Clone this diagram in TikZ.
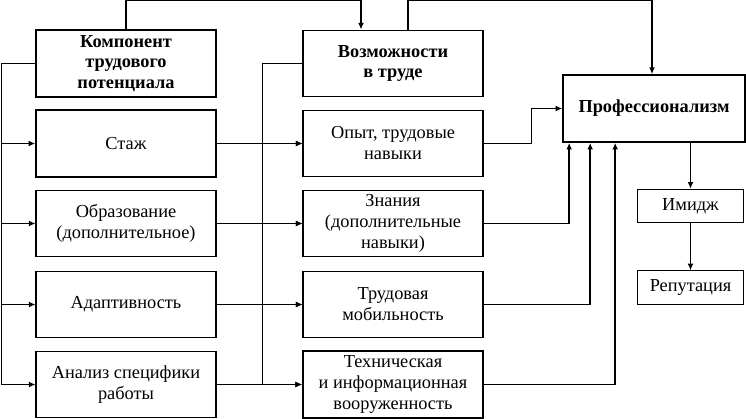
\documentclass[tikz,border=0pt]{standalone}
\usepackage{fontspec}
\setmainfont{Liberation Serif}
\usetikzlibrary{arrows.meta, calc, positioning}
\tikzset{
box/.style={draw, line width=0.7pt, minimum width=108pt, minimum height=40pt,
    align=center, inner sep=2pt, font=\fontsize{11}{12.6}\selectfont},
boldbox/.style={box, font=\fontsize{11}{12.2}\selectfont\bfseries},
edge/.style={line width=0.6pt, -{Latex[length=4pt,width=3.5pt]}},
thickedge/.style={edge, line width=1.1pt}
}

\begin{document}
\begin{tikzpicture}[x=0.6pt, y=-0.6pt]
		\useasboundingbox (0,0) rectangle (746,419);

		% left column
		\node[boldbox, line width=1pt] (komp) at (126,63.5) {Компонент\\трудового\\потенциала};
		\node[box, line width=1pt] (stazh) at (126,143.5) {Стаж};
		\node[box] (obraz) at (126,223.5) {Образование\\(дополнительное)};
		\node[box] (adapt) at (126,304.5) {Адаптивность};
		\node[box] (analiz) at (126,384.5) {Анализ специфики\\работы};

		% middle column
		\node[boldbox] (vozm) at (393,63.5) {Возможности\\в труде};
		\node[box] (opyt) at (393,143.5) {Опыт, трудовые\\навыки};
		\node[box] (znan) at (393,223.5) {Знания\\(дополнительные\\навыки)};
		\node[box] (trud) at (393,304.5) {Трудовая\\мобильность};
		\node[box, line width=1.1pt] (tehn) at (393,384.5) {Техническая\\и информационная\\вооруженность};

		% right column
		\node[boldbox, line width=1.2pt, minimum width=109pt] (prof) at (654,108.5) {Профессионализм};
		\node[box, minimum width=64pt, minimum height=20pt] (imidzh) at (690.5,206) {Имидж};
		\node[box, minimum width=64pt, minimum height=20pt] (reput) at (690.5,287.5) {Репутация};

		% top connectors
		\draw[thickedge] (komp.north) -- ++(0,-29) -| ($(vozm.north)+(-32,0)$);
		\draw[thickedge] ($(vozm.north)+(15,0)$) -- ++(0,-29) -| ($(prof.north)+(-2,0)$);

		% left bus
		\draw[edge] (komp.west) -- ++(-34,0) |- (stazh);
		\draw[edge] (komp.west) -- ++(-34,0) |- (obraz);
		\draw[edge] (komp.west) -- ++(-34,0) |- (adapt);
		\draw[edge] (komp.west) -- ++(-34,0) |- (analiz);

		% middle bus
		\draw[edge] (vozm.west) -- ++(-40,0) |- (opyt);
		\draw[edge] (vozm.west) -- ++(-40,0) |- (znan);
		\draw[edge] (vozm.west) -- ++(-40,0) |- (trud);
		\draw[edge] (vozm.west) -- ++(-40,0) |- (tehn);

		% left to middle
		\draw[edge] (stazh) -- (opyt);
		\draw[edge] (obraz) -- (znan);
		\draw[edge] (adapt) -- (trud);
		\draw[edge] (analiz) -- (tehn);

		% middle to right
		\draw[edge] (opyt.east) -- ++(48,0) |- (prof.west);
		\draw[thickedge] (znan.east) -| ($(prof.south west)+(7,0)$);
		\draw[thickedge] (trud.east) -| ($(prof.south west)+(28,0)$);
		\draw[thickedge] (tehn.east) -| ($(prof.south west)+(53,0)$);

		\draw[thickedge] (prof.south -| imidzh) -- (imidzh);
		\draw[edge] (imidzh) -- (reput);
	\end{tikzpicture}
\end{document}
